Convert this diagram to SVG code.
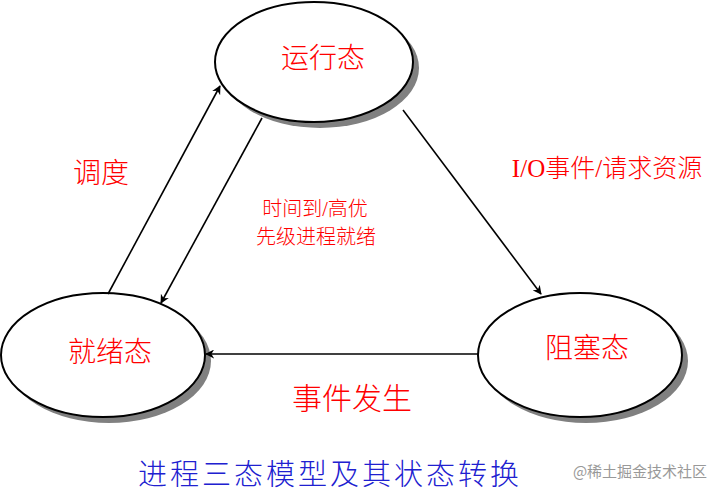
<svg xmlns="http://www.w3.org/2000/svg" width="720" height="500" viewBox="0 0 720 500">
<style>
.shadow{fill:#808080;stroke:none}
.node{fill:#fff;stroke:#000;stroke-width:2}
.red{fill:#ff0000;font-weight:300;font-family:"Liberation Serif","Noto Sans CJK SC",serif}
.edge{stroke:#000;stroke-width:1.6;fill:none;marker-end:url(#arr)}
</style>
<defs>
<marker id="arr" viewBox="0 0 10 10" refX="9" refY="5" markerWidth="9" markerHeight="9" markerUnits="userSpaceOnUse" orient="auto">
<path d="M0,0 L10,5 L0,10 L3,5 z" fill="#000"/>
</marker>
</defs>
<rect width="720" height="500" fill="#fff"/>
<g id="running">
<ellipse class="shadow" cx="320" cy="68" rx="99" ry="60"/>
<ellipse class="node" cx="314" cy="62" rx="99" ry="60"/>
<text class="red" x="323" y="68" font-size="28" text-anchor="middle">运行态</text>
</g>
<g id="ready">
<ellipse class="shadow" cx="109" cy="361" rx="102" ry="62"/>
<ellipse class="node" cx="103" cy="355" rx="102" ry="62"/>
<text class="red" x="110" y="362" font-size="28" text-anchor="middle">就绪态</text>
</g>
<g id="blocked">
<ellipse class="shadow" cx="586" cy="361" rx="102" ry="62"/>
<ellipse class="node" cx="580" cy="355" rx="102" ry="62"/>
<text class="red" x="587" y="358" font-size="28" text-anchor="middle">阻塞态</text>
</g>
<g id="connectors">
<line class="edge" x1="108" y1="294" x2="220" y2="86"/>
<line class="edge" x1="262" y1="118" x2="161" y2="303"/>
<line class="edge" x1="403" y1="110" x2="541" y2="294"/>
<line class="edge" x1="478" y1="354" x2="206" y2="354"/>
</g>
<g id="labels">
<text class="red" x="73" y="183" font-size="28">调度</text>
<text class="red" x="315" y="216" font-size="20" text-anchor="middle">时间到/高优</text>
<text class="red" x="316" y="244" font-size="20" text-anchor="middle">先级进程就绪</text>
<text class="red" x="607" y="177" font-size="25" text-anchor="middle">I/O事件/请求资源</text>
<text class="red" x="352" y="409" font-size="30" text-anchor="middle">事件发生</text>
<text x="330" y="485" font-size="29" font-weight="300" letter-spacing="3" fill="#2020d0" text-anchor="middle" font-family="Noto Sans CJK SC, sans-serif">进程三态模型及其状态转换</text>
<text x="640" y="477" font-size="15" fill="#999" text-anchor="middle" font-family="Noto Sans CJK SC, sans-serif">@稀土掘金技术社区</text>
</g>
</svg>
